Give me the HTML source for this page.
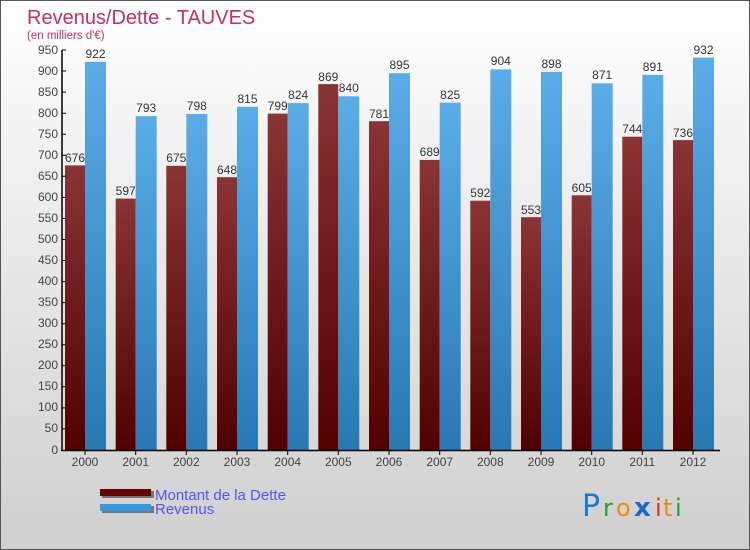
<!DOCTYPE html>
<html><head><meta charset="utf-8"><style>
body{margin:0;width:750px;height:550px;overflow:hidden}
svg{display:block;font-family:"Liberation Sans",sans-serif}
</style></head><body>
<svg width="750" height="550" xmlns="http://www.w3.org/2000/svg">
<defs>
<linearGradient id="bg" x1="0" y1="0" x2="0" y2="1"><stop offset="0" stop-color="#ffffff"/><stop offset="1" stop-color="#cfcfcf"/></linearGradient>
<linearGradient id="gd" x1="0" y1="0" x2="0" y2="1"><stop offset="0" stop-color="#8a3434"/><stop offset="1" stop-color="#520000"/></linearGradient>
<linearGradient id="gr" x1="0" y1="0" x2="0" y2="1"><stop offset="0" stop-color="#5aade6"/><stop offset="1" stop-color="#2878b4"/></linearGradient>
</defs>
<rect x="0.5" y="0.5" width="749" height="549" fill="url(#bg)" stroke="#555"/>
<text x="27" y="24" font-size="20" fill="#c0306a">Revenus/Dette - TAUVES</text>
<text x="27" y="39" font-size="11.5" fill="#c0306a">(en milliers d'€)</text>
<g fill="url(#gd)">
<rect x="65" y="165.4" width="20" height="284.6"/>
<rect x="115.7" y="198.6" width="20" height="251.4"/>
<rect x="166.3" y="165.8" width="20" height="284.2"/>
<rect x="217" y="177.2" width="20" height="272.8"/>
<rect x="267.7" y="113.6" width="20" height="336.4"/>
<rect x="318.3" y="84.1" width="20" height="365.9"/>
<rect x="369" y="121.2" width="20" height="328.8"/>
<rect x="419.7" y="159.9" width="20" height="290.1"/>
<rect x="470.3" y="200.7" width="20" height="249.3"/>
<rect x="521" y="217.2" width="20" height="232.8"/>
<rect x="571.7" y="195.3" width="20" height="254.7"/>
<rect x="622.3" y="136.7" width="20" height="313.3"/>
<rect x="673" y="140.1" width="20" height="309.9"/>
</g>
<g fill="url(#gr)">
<rect x="85" y="61.8" width="21" height="388.2"/>
<rect x="135.7" y="116.1" width="21" height="333.9"/>
<rect x="186.3" y="114" width="21" height="336"/>
<rect x="237" y="106.8" width="21" height="343.2"/>
<rect x="287.7" y="103.1" width="21" height="346.9"/>
<rect x="338.3" y="96.3" width="21" height="353.7"/>
<rect x="389" y="73.2" width="21" height="376.8"/>
<rect x="439.7" y="102.6" width="21" height="347.4"/>
<rect x="490.3" y="69.4" width="21" height="380.6"/>
<rect x="541" y="71.9" width="21" height="378.1"/>
<rect x="591.7" y="83.3" width="21" height="366.7"/>
<rect x="642.3" y="74.8" width="21" height="375.2"/>
<rect x="693" y="57.6" width="21" height="392.4"/>
</g>
<g font-size="12" fill="#333" text-anchor="middle">
<text x="75" y="162">676</text><text x="125.7" y="195">597</text><text x="176.3" y="162">675</text><text x="227" y="174">648</text><text x="277.7" y="110">799</text><text x="328.3" y="81">869</text><text x="379" y="118">781</text><text x="429.7" y="156">689</text><text x="480.3" y="197">592</text><text x="531" y="214">553</text><text x="581.7" y="192">605</text><text x="632.3" y="133">744</text><text x="683" y="137">736</text>
<text x="95.5" y="58">922</text><text x="146.2" y="112">793</text><text x="196.8" y="110">798</text><text x="247.5" y="103">815</text><text x="298.2" y="99">824</text><text x="348.8" y="92">840</text><text x="399.5" y="69">895</text><text x="450.2" y="99">825</text><text x="500.8" y="65">904</text><text x="551.5" y="68">898</text><text x="602.2" y="79">871</text><text x="652.8" y="71">891</text><text x="703.5" y="54">932</text>
</g>
<g stroke="#000" stroke-width="1.5">
<line x1="62" y1="50" x2="62" y2="451"/>
<line x1="61" y1="450.5" x2="720" y2="450.5"/>
</g>
<g stroke="#000" stroke-width="1">
<path d="M62 50h4M62 71h4M62 92.1h4M62 113.2h4M62 134.2h4M62 155.3h4M62 176.3h4M62 197.4h4M62 218.4h4M62 239.5h4M62 260.5h4M62 281.6h4M62 302.6h4M62 323.7h4M62 344.7h4M62 365.8h4M62 386.8h4M62 407.9h4M62 428.9h4"/>
<path d="M85 450v5M135.7 450v5M186.3 450v5M237 450v5M287.7 450v5M338.3 450v5M389 450v5M439.7 450v5M490.3 450v5M541 450v5M591.7 450v5M642.3 450v5M693 450v5"/>
</g>
<g font-size="12" fill="#444" text-anchor="end">
<text x="58" y="54">950</text><text x="58" y="75">900</text><text x="58" y="96">850</text><text x="58" y="117">800</text><text x="58" y="138">750</text><text x="58" y="159">700</text><text x="58" y="180">650</text><text x="58" y="201">600</text><text x="58" y="222">550</text><text x="58" y="243">500</text><text x="58" y="264">450</text><text x="58" y="285">400</text><text x="58" y="306">350</text><text x="58" y="327">300</text><text x="58" y="348">250</text><text x="58" y="369">200</text><text x="58" y="390">150</text><text x="58" y="411">100</text><text x="58" y="432">50</text><text x="58" y="454">0</text>
</g>
<g font-size="12" fill="#444" text-anchor="middle">
<text x="85" y="466">2000</text><text x="135.7" y="466">2001</text><text x="186.3" y="466">2002</text><text x="237" y="466">2003</text><text x="287.7" y="466">2004</text><text x="338.3" y="466">2005</text><text x="389" y="466">2006</text><text x="439.7" y="466">2007</text><text x="490.3" y="466">2008</text><text x="541" y="466">2009</text><text x="591.7" y="466">2010</text><text x="642.3" y="466">2011</text><text x="693" y="466">2012</text>
</g>
<rect x="102" y="491" width="52" height="7" fill="#777"/>
<rect x="100" y="489" width="51" height="7" fill="#6a0000"/>
<rect x="102" y="506" width="52" height="7" fill="#777"/>
<rect x="100" y="504" width="51" height="7" fill="#3399e0"/>
<text x="155" y="500" font-size="15" fill="#5555ee">Montant de la Dette</text>
<text x="155" y="514" font-size="15" fill="#5555ee">Revenus</text>
<g font-family="DejaVu Sans,sans-serif">
<text x="582" y="516" fill="#1a7acc" font-size="30">P</text><text x="603" y="516" fill="#2a9a3a" font-size="24">r</text><text x="616" y="516" fill="#f08a10" font-size="24">o</text><text x="634" y="516" fill="#1a6ac8" font-size="26" font-weight="bold">x</text><text x="655" y="516" fill="#e03010" font-size="24">i</text><text x="663" y="516" fill="#f08a10" font-size="24">t</text><text x="675" y="516" fill="#2a9a3a" font-size="24">i</text>
</g>
</svg>
</body></html>
